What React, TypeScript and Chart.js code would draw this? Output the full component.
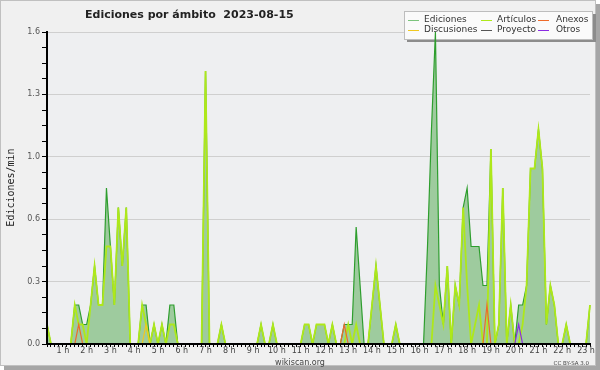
import React, { useEffect, useRef } from 'react';
import { Chart, registerables } from 'chart.js';

Chart.register(...registerables);

// 10-minute slots, 00:00 .. 22:50
const slots: string[] = Array.from({ length: 138 }, (_, i) =>
  `${String(Math.floor(i / 6)).padStart(2, '0')}:${String((i % 6) * 10).padStart(2, '0')}`
);

const hourTicks = [
  '1 h', '2 h', '3 h', '4 h', '5 h', '6 h', '7 h', '8 h', '9 h', '10 h', '11 h', '12 h',
  '13 h', '14 h', '15 h', '16 h', '17 h', '18 h', '19 h', '20 h', '21 h', '22 h', '23 h',
];

const ediciones = [
  0.1, 0, 0, 0, 0, 0, 0, 0.2, 0.2, 0.1, 0.1, 0.2,
  0.4, 0.2, 0.2, 0.8, 0.5, 0.2, 0.7, 0.4, 0.7, 0, 0, 0,
  0.2, 0.2, 0, 0.1, 0, 0.1, 0, 0.2, 0.2, 0, 0, 0,
  0, 0, 0, 0, 1.4, 0, 0, 0, 0.1, 0, 0, 0,
  0, 0, 0, 0, 0, 0, 0.1, 0, 0, 0.1, 0, 0,
  0, 0, 0, 0, 0, 0.1, 0.1, 0, 0.1, 0.1, 0.1, 0,
  0.1, 0, 0, 0.1, 0.1, 0.1, 0.6, 0.3, 0, 0, 0.2, 0.4,
  0.2, 0, 0, 0, 0.1, 0, 0, 0, 0, 0, 0, 0,
  0.5, 1.1, 1.6, 0.3, 0.1, 0.4, 0, 0.3, 0.2, 0.7, 0.8, 0.5,
  0.5, 0.5, 0.3, 0.3, 1.0, 0, 0.1, 0.8, 0, 0.2, 0, 0.2,
  0.2, 0.3, 0.9, 0.9, 1.1, 0.9, 0.1, 0.3, 0.2, 0, 0, 0.1,
  0, 0, 0, 0, 0, 0.2,
];

const articulos = [
  0.1, 0, 0, 0, 0, 0, 0, 0.2, 0.1, 0.1, 0, 0.2,
  0.4, 0.2, 0.2, 0.5, 0.5, 0.2, 0.7, 0.4, 0.7, 0, 0, 0,
  0.2, 0.1, 0, 0.1, 0, 0.1, 0, 0.1, 0.1, 0, 0, 0,
  0, 0, 0, 0, 1.4, 0, 0, 0, 0.1, 0, 0, 0,
  0, 0, 0, 0, 0, 0, 0.1, 0, 0, 0.1, 0, 0,
  0, 0, 0, 0, 0, 0.1, 0.1, 0, 0.1, 0.1, 0.1, 0,
  0.1, 0, 0, 0, 0.1, 0, 0.1, 0, 0, 0, 0.2, 0.4,
  0.2, 0, 0, 0, 0.1, 0, 0, 0, 0, 0, 0, 0,
  0, 0, 0.3, 0.2, 0.1, 0.4, 0, 0.3, 0.2, 0.7, 0.3, 0,
  0.1, 0.2, 0, 0, 1.0, 0, 0.1, 0.8, 0, 0.2, 0, 0,
  0.1, 0.3, 0.9, 0.9, 1.1, 0.9, 0.1, 0.3, 0.2, 0, 0, 0.1,
  0, 0, 0, 0, 0, 0.2,
];

const anexos = [
  0, 0, 0, 0, 0, 0, 0, 0, 0.1, 0, 0, 0,
  0, 0, 0, 0, 0, 0, 0, 0, 0, 0, 0, 0,
  0, 0, 0, 0, 0, 0, 0, 0, 0, 0, 0, 0,
  0, 0, 0, 0, 0, 0, 0, 0, 0, 0, 0, 0,
  0, 0, 0, 0, 0, 0, 0, 0, 0, 0, 0, 0,
  0, 0, 0, 0, 0, 0, 0, 0, 0, 0, 0, 0,
  0, 0, 0, 0.1, 0, 0, 0, 0, 0, 0, 0, 0,
  0, 0, 0, 0, 0, 0, 0, 0, 0, 0, 0, 0,
  0, 0, 0, 0, 0, 0, 0, 0, 0, 0, 0, 0,
  0, 0, 0, 0.2, 0, 0, 0, 0, 0, 0, 0, 0,
  0, 0, 0, 0, 0, 0, 0, 0, 0, 0, 0, 0,
  0, 0, 0, 0, 0, 0,
];

const discusiones = [
  0, 0, 0, 0, 0, 0, 0, 0, 0, 0, 0, 0,
  0, 0, 0, 0, 0, 0, 0, 0, 0, 0, 0, 0,
  0, 0.1, 0, 0, 0, 0, 0, 0, 0, 0, 0, 0,
  0, 0, 0, 0, 0, 0, 0, 0, 0, 0, 0, 0,
  0, 0, 0, 0, 0, 0, 0, 0, 0, 0, 0, 0,
  0, 0, 0, 0, 0, 0, 0, 0, 0, 0, 0, 0,
  0, 0, 0, 0, 0, 0, 0, 0, 0, 0, 0, 0,
  0, 0, 0, 0, 0, 0, 0, 0, 0, 0, 0, 0,
  0, 0, 0, 0, 0, 0, 0, 0, 0, 0, 0, 0,
  0, 0, 0, 0, 0, 0, 0, 0, 0, 0, 0, 0,
  0, 0, 0, 0, 0, 0, 0, 0, 0, 0, 0, 0,
  0, 0, 0, 0, 0, 0,
];

const proyecto = [
  0, 0, 0, 0, 0, 0, 0, 0, 0, 0, 0, 0,
  0, 0, 0, 0, 0, 0, 0, 0, 0, 0, 0, 0,
  0, 0, 0, 0, 0, 0, 0, 0, 0, 0, 0, 0,
  0, 0, 0, 0, 0, 0, 0, 0, 0, 0, 0, 0,
  0, 0, 0, 0, 0, 0, 0, 0, 0, 0, 0, 0,
  0, 0, 0, 0, 0, 0, 0, 0, 0, 0, 0, 0,
  0, 0, 0, 0, 0, 0, 0, 0, 0, 0, 0, 0,
  0, 0, 0, 0, 0, 0, 0, 0, 0, 0, 0, 0,
  0, 0, 0, 0, 0, 0, 0, 0, 0, 0, 0, 0,
  0, 0, 0, 0, 0, 0, 0, 0, 0, 0, 0, 0,
  0, 0, 0, 0, 0, 0, 0, 0, 0, 0, 0, 0,
  0, 0, 0, 0, 0, 0,
];

const otros = [
  0, 0, 0, 0, 0, 0, 0, 0, 0, 0, 0, 0,
  0, 0, 0, 0, 0, 0, 0, 0, 0, 0, 0, 0,
  0, 0, 0, 0, 0, 0, 0, 0, 0, 0, 0, 0,
  0, 0, 0, 0, 0, 0, 0, 0, 0, 0, 0, 0,
  0, 0, 0, 0, 0, 0, 0, 0, 0, 0, 0, 0,
  0, 0, 0, 0, 0, 0, 0, 0, 0, 0, 0, 0,
  0, 0, 0, 0, 0, 0, 0, 0, 0, 0, 0, 0,
  0, 0, 0, 0, 0, 0, 0, 0, 0, 0, 0, 0,
  0, 0, 0, 0, 0, 0, 0, 0, 0, 0, 0, 0,
  0, 0, 0, 0, 0, 0, 0, 0, 0, 0, 0, 0.1,
  0, 0, 0, 0, 0, 0, 0, 0, 0, 0, 0, 0,
  0, 0, 0, 0, 0, 0,
];

const legendRows = [
  ['Ediciones', 'Artículos', 'Anexos'],
  ['Discusiones', 'Proyecto', 'Otros'],
];

const TITLE = 'Ediciones por ámbito  2023-08-15';
const Y_TITLE = 'Ediciones/min';
const FONT = "'DejaVu Sans', sans-serif";

const decor = {
  id: 'decor',
  beforeDraw(chart: any) {
    const { ctx, chartArea: a } = chart;
    ctx.save();
    ctx.fillStyle = '#ffffff';
    ctx.fillRect(0, 0, 600, 370);
    ctx.fillStyle = '#a6a6a6';
    ctx.fillRect(596, 4, 4, 366);
    ctx.fillRect(4, 366, 596, 4);
    ctx.fillStyle = '#f0f0f0';
    ctx.fillRect(0, 0, 596, 366);
    ctx.strokeStyle = '#c0c0c0';
    ctx.lineWidth = 1;
    ctx.strokeRect(0.5, 0.5, 595, 365);
    ctx.fillStyle = '#eeeff1';
    ctx.fillRect(a.left, a.top, a.right - a.left, a.bottom - a.top);
    ctx.restore();
  },
  beforeDatasetsDraw(chart: any) {
    const { ctx } = chart;
    ctx.save();
    // legend box with shadow
    ctx.fillStyle = '#8c8c8c';
    ctx.fillRect(407, 14, 189, 28);
    ctx.fillStyle = '#fafafa';
    ctx.fillRect(404, 11, 189, 29);
    ctx.strokeStyle = '#bdbdbd';
    ctx.strokeRect(404.5, 11.5, 188, 28);
    const symX = [408, 481, 538];
    const txtX = [424, 497, 556];
    const rowY = [20, 30];
    ctx.font = `9px ${FONT}`;
    ctx.textBaseline = 'middle';
    ctx.textAlign = 'left';
    legendRows.forEach((row, r) => {
      row.forEach((lab, c) => {
        const ds = chart.data.datasets.find((d: any) => d.label === lab);
        ctx.strokeStyle = ds ? ds.legendColor : '#000';
        ctx.lineWidth = 1;
        ctx.beginPath();
        ctx.moveTo(symX[c], rowY[r] + 0.5);
        ctx.lineTo(symX[c] + 11, rowY[r] + 0.5);
        ctx.stroke();
        ctx.fillStyle = '#333';
        ctx.fillText(lab, txtX[c], rowY[r]);
      });
    });
    ctx.restore();
  },
  afterDraw(chart: any) {
    const { ctx } = chart;
    ctx.save();
    ctx.fillStyle = '#222';
    ctx.font = `bold 11px ${FONT}`;
    ctx.textAlign = 'left';
    ctx.textBaseline = 'alphabetic';
    ctx.fillText(TITLE, 85, 18);

    ctx.font = `10px 'DejaVu Sans Mono', monospace`;
    ctx.fillStyle = '#222';
    ctx.translate(14, 187.5);
    ctx.rotate(-Math.PI / 2);
    ctx.textAlign = 'center';
    ctx.fillText(Y_TITLE, 0, 0);
    ctx.setTransform(1, 0, 0, 1, 0, 0);

    ctx.font = `8px ${FONT}`;
    ctx.fillStyle = '#444';
    ctx.textAlign = 'center';
    ctx.fillText('wikiscan.org', 300, 364.5);
    ctx.font = `5.5px ${FONT}`;
    ctx.textAlign = 'right';
    ctx.fillText('CC BY-SA 3.0', 589, 364.5);
    ctx.restore();
  },
};

export default function App() {
  const ref = useRef<HTMLCanvasElement>(null);
  useEffect(() => {
    const canvas = ref.current!;
    const line = (label: string, data: number[], color: string, order: number, width = 1.2) => ({
      label,
      data,
      borderColor: color,
      legendColor: color,
      borderWidth: width,
      pointRadius: 0,
      tension: 0,
      fill: false,
      order,
    });
    const chart = new Chart(canvas, {
      type: 'line',
      data: {
        labels: slots,
        datasets: [
          line('Otros', otros, '#8a2be2', 0),
          line('Anexos', anexos, '#ee6a2a', 1),
          line('Proyecto', proyecto, '#555555', 2),
          line('Discusiones', discusiones, '#f0c820', 3),
          line('Artículos', articulos, '#aee81a', 4, 1.8),
          {
            ...line('Ediciones', ediciones, '#2e9e2e', 5, 1.2),
            legendColor: '#7cc47c',
            fill: 'origin',
            backgroundColor: '#9ecb9e',
          } as any,
        ],
      },
      options: {
        responsive: false,
        animation: false,
        events: [],
        layout: { padding: { left: 0, top: 32, right: 10, bottom: 0 } },
        plugins: {
          legend: { display: false },
          title: { display: false },
          tooltip: { enabled: false },
        },
        scales: {
          x: {
            type: 'category',
            offset: false,
            grid: {
              display: true,
              drawOnChartArea: false,
              drawTicks: true,
              tickLength: 3,
              tickColor: '#000',
              offset: false,
            },
            border: { display: true, color: '#000', width: 2, z: 1 },
            ticks: {
              autoSkip: false,
              maxRotation: 0,
              minRotation: 0,
              padding: -1,
              color: '#444',
              font: { family: FONT, size: 8 },
              callback: (_v: any, i: number) =>
                (i + 2) % 6 === 0 ? hourTicks[(i + 2) / 6 - 1] : '',
            },
            afterFit: (s: any) => {
              s.height = 26;
              s.paddingLeft = 0;
              s.paddingRight = 0;
            },
          },
          y: {
            type: 'linear',
            min: 0,
            max: 1.6,
            grid: {
              color: (c: any) => (c.index % 4 === 0 ? '#cfcfcf' : 'rgba(0,0,0,0)'),
              tickColor: '#000',
              tickLength: 5,
              lineWidth: 1,
            },
            border: { display: true, color: '#000', width: 2, z: 1 },
            ticks: {
              stepSize: 0.08,
              autoSkip: false,
              padding: 2,
              color: '#555',
              font: { family: FONT, size: 8 },
              callback: (v: any, i: number) => (i % 4 === 0 ? Number(v).toFixed(1) : ''),
            },
            afterFit: (s: any) => {
              s.width = 47;
              s.paddingTop = 0;
              s.paddingBottom = 0;
            },
          },
        },
      } as any,
      plugins: [decor],
    });
    return () => chart.destroy();
  }, []);
  return (
    <div style={{ position: 'fixed', left: 0, top: 0, width: 600, height: 370 }}>
      <canvas ref={ref} width={600} height={370} style={{ display: 'block' }} />
    </div>
  );
}
